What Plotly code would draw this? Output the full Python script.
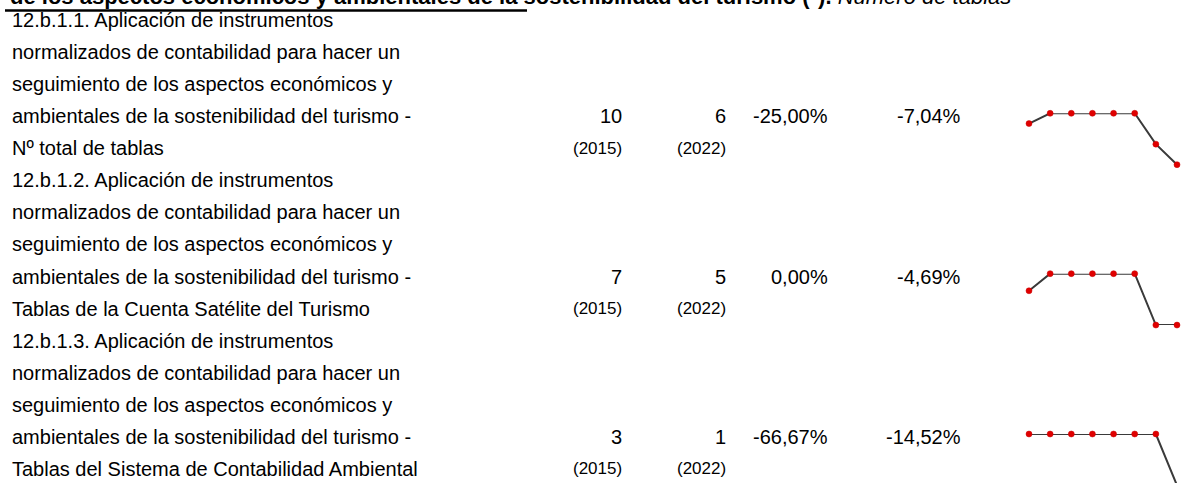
import plotly.graph_objects as go

# ---------------- data ----------------
title_bold = "de los aspectos económicos y ambientales de la sostenibilidad del turismo (*)."
title_italic = " Número de tablas"

indicator_lines = [
    ["12.b.1.1. Aplicación de instrumentos",
     "normalizados de contabilidad para hacer un",
     "seguimiento de los aspectos económicos y",
     "ambientales de la sostenibilidad del turismo -",
     "Nº total de tablas"],
    ["12.b.1.2. Aplicación de instrumentos",
     "normalizados de contabilidad para hacer un",
     "seguimiento de los aspectos económicos y",
     "ambientales de la sostenibilidad del turismo -",
     "Tablas de la Cuenta Satélite del Turismo"],
    ["12.b.1.3. Aplicación de instrumentos",
     "normalizados de contabilidad para hacer un",
     "seguimiento de los aspectos económicos y",
     "ambientales de la sostenibilidad del turismo -",
     "Tablas del Sistema de Contabilidad Ambiental"],
]
first_values = [10, 7, 3]
first_years = [2015, 2015, 2015]
last_values = [6, 5, 1]
last_years = [2022, 2022, 2022]
last_change_pct = [-25.00, 0.00, -66.67]
cagr_pct = [-7.04, -4.69, -14.52]

years = [2015, 2016, 2017, 2018, 2019, 2020, 2021, 2022]
series = [
    [10, 11, 11, 11, 11, 11, 8, 6],
    [7, 8, 8, 8, 8, 8, 5, 5],
    [3, 3, 3, 3, 3, 3, 3, 1],
]

# ---------------- layout constants ----------------
W, H = 1183, 483
FONT = "Liberation Sans, Arial, sans-serif"
FS = 20
FS_YEAR = 17
LINE0 = 20.0      # centre of first text line (px from top)
LINE_H = 32.07    # line pitch
ROW_LINES = 5
TEXT_X = 10
COL_FIRST_R = 624
COL_LAST_R = 728
COL_CHG_R = 830
COL_CAGR_R = 963
SPARK_X0, SPARK_X1 = 1029, 1177
SPARK_TOP0 = 113.3
SPARK_H = 51.4


def fmt_pct(v):
    return ("%.2f" % v).replace(".", ",") + "%"


fig = go.Figure()
fig.add_trace(go.Scatter(x=[0, W], y=[0, H], mode="markers",
                         marker=dict(opacity=0), hoverinfo="skip",
                         showlegend=False, xaxis="x", yaxis="y"))

ann = []
txt_font = dict(family=FONT, size=FS, color="black")

# title (cut off at top of the picture)
ann.append(dict(x=8 / W, y=1 - (-4) / H, xref="paper", yref="paper",
                xanchor="left", yanchor="middle",
                text="<b>" + title_bold + "</b><i>" + title_italic + "</i>",
                showarrow=False, font=dict(family=FONT, size=22, color="black")))

for r, lines in enumerate(indicator_lines):
    base = r * ROW_LINES
    for i, t in enumerate(lines):
        ann.append(dict(x=TEXT_X, y=LINE0 + LINE_H * (base + i), xref="x", yref="y",
                        xanchor="left", yanchor="middle", text=t, showarrow=False,
                        font=txt_font))
    yv = LINE0 + LINE_H * (base + 3)
    yy = LINE0 + LINE_H * (base + 4)
    for xr, t in [(COL_FIRST_R, str(first_values[r])),
                  (COL_LAST_R, str(last_values[r])),
                  (COL_CHG_R, fmt_pct(last_change_pct[r])),
                  (COL_CAGR_R, fmt_pct(cagr_pct[r]))]:
        ann.append(dict(x=xr, y=yv, xref="x", yref="y", xanchor="right",
                        yanchor="middle", text=t, showarrow=False, font=txt_font))
    for xr, t in [(COL_FIRST_R, "(%d)" % first_years[r]),
                  (COL_LAST_R, "(%d)" % last_years[r])]:
        ann.append(dict(x=xr, y=yy, xref="x", yref="y", xanchor="right",
                        yanchor="middle", text=t, showarrow=False,
                        font=dict(family=FONT, size=FS_YEAR, color="black")))

# sparklines
layout_axes = {}
for r, vals in enumerate(series):
    k = r + 2
    vmin, vmax = min(vals), max(vals)
    top_px = SPARK_TOP0 + LINE_H * ROW_LINES * r
    bot_px = top_px + SPARK_H
    lo = vmin
    if bot_px > H:
        lo = vmin + (vmax - vmin) * (bot_px - H) / SPARK_H
        bot_px = H
    fig.add_trace(go.Scatter(
        x=years, y=vals, mode="lines+markers",
        line=dict(color="#3a3a3a", width=2),
        marker=dict(color="#e00000", size=6, line=dict(color="#c80000", width=0.5)),
        cliponaxis=False, showlegend=False, hoverinfo="skip",
        xaxis="x%d" % k, yaxis="y%d" % k))
    layout_axes["xaxis%d" % k] = dict(domain=[SPARK_X0 / W, SPARK_X1 / W],
                                      range=[years[0], years[-1]], visible=False,
                                      fixedrange=True, anchor="y%d" % k)
    layout_axes["yaxis%d" % k] = dict(domain=[1 - bot_px / H, 1 - top_px / H],
                                      range=[lo, vmax], visible=False,
                                      fixedrange=True, anchor="x%d" % k)

shapes = [dict(type="line", xref="x", yref="y", x0=5, x1=527, y0=10.5, y1=10.5,
               line=dict(color="black", width=2.5))]

fig.update_layout(
    width=W, height=H, margin=dict(l=0, r=0, t=0, b=0),
    paper_bgcolor="white", plot_bgcolor="white",
    xaxis=dict(range=[0, W], visible=False, domain=[0, 1], fixedrange=True),
    yaxis=dict(range=[H, 0], visible=False, domain=[0, 1], fixedrange=True),
    annotations=ann, shapes=shapes, showlegend=False,
    **layout_axes,
)

fig.write_html("out.html", config={"displayModeBar": False},
               post_script="document.body.style.margin='0';document.body.style.overflow='hidden';")
